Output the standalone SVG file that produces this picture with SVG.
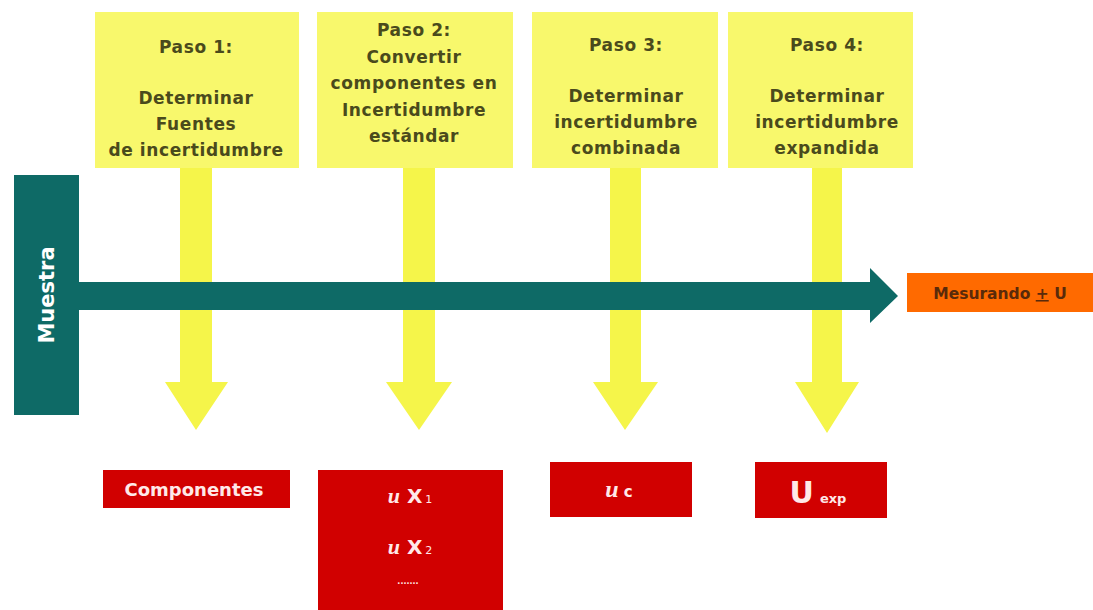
<svg xmlns="http://www.w3.org/2000/svg" width="1093" height="610" viewBox="0 0 1093 610">
<style>
.box{fill:#f8f86c}
.arr{fill:#f5f54a}
.t{font-family:"DejaVu Sans","Liberation Sans",sans-serif;font-weight:bold;font-size:17px;letter-spacing:0.6px;fill:#4a4a1c;text-anchor:middle}
.red{fill:#d10000}
.w{font-family:"DejaVu Sans","Liberation Sans",sans-serif;font-weight:bold;fill:#ffe8e8;text-anchor:middle}
.ui{font-family:"Liberation Serif",serif;font-style:italic;font-weight:bold}
</style>
<rect width="1093" height="610" fill="#ffffff"/>
<g id="connectors">
<path class="arr" d="M180,166 H212 V382 H228 L196,430 L165,382 H180 Z"/>
<path class="arr" d="M403,166 H435 V382 H452 L419,430 L386,382 H403 Z"/>
<path class="arr" d="M610,166 H641 V382 H658 L625,430 L593,382 H610 Z"/>
<path class="arr" d="M812,166 H842 V382 H859 L827,433 L795,382 H812 Z"/>
<path fill="#0e6a66" d="M78,282 H870 V268 L898,296 L870,323 V310 H78 Z"/>
</g>
<g id="paso1">
<rect class="box" x="95" y="12" width="204" height="156"/>
<text class="t" x="196" y="53">Paso 1:</text>
<text class="t" x="196" y="104">Determinar</text>
<text class="t" x="196" y="130">Fuentes</text>
<text class="t" x="196" y="156">de incertidumbre</text>
</g>
<g id="paso2">
<rect class="box" x="317" y="12" width="196" height="156"/>
<text class="t" x="414" y="36">Paso 2:</text>
<text class="t" x="414" y="63">Convertir</text>
<text class="t" x="414" y="89">componentes en</text>
<text class="t" x="414" y="116">Incertidumbre</text>
<text class="t" x="414" y="142">estándar</text>
</g>
<g id="paso3">
<rect class="box" x="532" y="12" width="186" height="156"/>
<text class="t" x="626" y="51">Paso 3:</text>
<text class="t" x="626" y="102">Determinar</text>
<text class="t" x="626" y="128">incertidumbre</text>
<text class="t" x="626" y="154">combinada</text>
</g>
<g id="paso4">
<rect class="box" x="728" y="12" width="185" height="156"/>
<text class="t" x="827" y="51">Paso 4:</text>
<text class="t" x="827" y="102">Determinar</text>
<text class="t" x="827" y="128">incertidumbre</text>
<text class="t" x="827" y="154">expandida</text>
</g>
<g id="muestra">
<rect x="14" y="175" width="65" height="240" fill="#0e6a66"/>
<text class="w" font-size="21" transform="translate(54,295) rotate(-90)" style="fill:#ffffff">Muestra</text>
</g>
<g id="mesurando">
<rect x="907" y="273" width="186" height="39" fill="#ff6a00"/>
<text x="1000" y="299" font-family="DejaVu Sans,Liberation Sans,sans-serif" font-weight="bold" font-size="15.5" fill="#5a2a0a" text-anchor="middle">Mesurando <tspan text-decoration="underline">+</tspan> U</text>
</g>
<g id="componentes">
<rect class="red" x="103" y="470" width="187" height="38"/>
<text class="w" font-size="18" x="194" y="496">Componentes</text>
</g>
<g id="ux">
<rect class="red" x="318" y="470" width="185" height="140"/>
<text class="w" font-size="20" x="410" y="503"><tspan class="ui" font-size="22">u</tspan> X<tspan font-size="11" font-weight="normal" dx="3">1</tspan></text>
<text class="w" font-size="20" x="410" y="554"><tspan class="ui" font-size="22">u</tspan> X<tspan font-size="11" font-weight="normal" dx="3">2</tspan></text>
<text class="w" font-size="8" font-weight="normal" x="408" y="584">.......</text>
</g>
<g id="uc">
<rect class="red" x="550" y="462" width="142" height="55"/>
<text class="w" x="619" y="497"><tspan class="ui" font-size="24">u</tspan><tspan font-size="15" dx="5">c</tspan></text>
</g>
<g id="uexp">
<rect class="red" x="755" y="462" width="132" height="56"/>
<text class="w" x="818" y="503"><tspan font-size="30">U</tspan><tspan font-size="13" dx="6">exp</tspan></text>
</g>
</svg>
